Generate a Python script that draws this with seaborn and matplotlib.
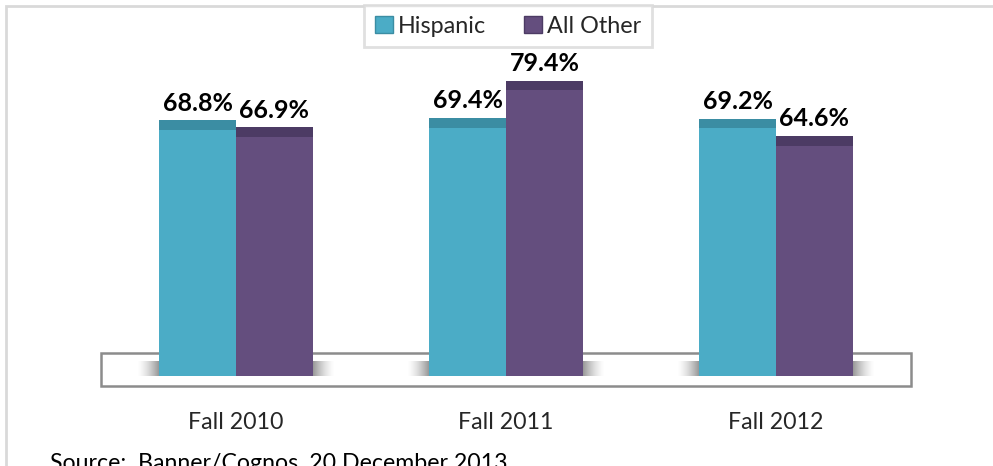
import numpy as np
import pandas as pd
import matplotlib
matplotlib.use("Agg")
import matplotlib.pyplot as plt
from matplotlib.patches import Rectangle, Patch
import seaborn as sns

# Enrollment rates by term and student group
terms = ["Fall 2010", "Fall 2011", "Fall 2012"]
groups = ["Hispanic", "All Other"]
hispanic = [68.8, 69.4, 69.2]
all_other = [66.9, 79.4, 64.6]
source_note = "Source:  Banner/Cognos, 20 December 2013"

df = pd.DataFrame({
    "term": terms * 2,
    "group": [groups[0]] * 3 + [groups[1]] * 3,
    "rate": hispanic + all_other,
})

aqua, aqua_dark = "#4bacc6", "#3b8da3"
purple, purple_dark = "#644e7e", "#4c3b64"

sns.set_style("white")
plt.rcParams["font.family"] = ["Lato", "DejaVu Sans"]

W, H = 993, 466
fig = plt.figure(figsize=(W / 100, H / 100), dpi=100)
fig.patch.set_facecolor("white")

# frame along the top and left edges (right and bottom run off the canvas)
fig.add_artist(Rectangle((6 / W, -0.2), 1.2, 1.2 - 6 / H, facecolor="none",
                         edgecolor="#d9d9d9", lw=2, transform=fig.transFigure))

ax = fig.add_axes([101 / W, 1 - 376 / H, 810 / W, 316 / H])
sns.barplot(data=df, x="term", y="rate", hue="group", order=terms,
            hue_order=groups, palette=[aqua, purple], width=0.57,
            saturation=1, legend=False, ax=ax, zorder=2, linewidth=0,
            edgecolor="none")

ax.set_xlim(-0.5, 2.5)
ax.set_ylim(0, 85)

# darker bevel band on top of every bar
dark_for = {matplotlib.colors.to_hex(aqua): aqua_dark,
            matplotlib.colors.to_hex(purple): purple_dark}
for bar in list(ax.patches):
    x, w, h = bar.get_x(), bar.get_width(), bar.get_height()
    col = dark_for.get(matplotlib.colors.to_hex(bar.get_facecolor()), "#333333")
    ax.add_patch(Rectangle((x, h - 2.6), w, 2.6, facecolor=col,
                           edgecolor="none", zorder=3))

# floor plate under the bars
ax.add_patch(Rectangle((-0.5, -2.7), 3.0, 8.9, facecolor="white",
                       edgecolor="#8c8c8c", lw=1.8, clip_on=False, zorder=0.5))

# soft shadows beside each pair of bars
n = 64
ramp = np.linspace(0, 1, n) ** 1.5
grey = np.array([0.55, 0.55, 0.55])
left_img = np.zeros((1, n, 4))
left_img[..., :3] = grey
left_img[..., 3] = ramp * 0.9
right_img = left_img[:, ::-1, :]
for i in range(len(terms)):
    gx0 = i - 0.285
    gx1 = i + 0.285
    ax.imshow(left_img, extent=(gx0 - 0.08, gx0, 0, 3.9), aspect="auto",
              zorder=1, interpolation="bilinear")
    ax.imshow(right_img, extent=(gx1, gx1 + 0.08, 0, 3.9), aspect="auto",
              zorder=1, interpolation="bilinear")

ax.set_xlim(-0.5, 2.5)
ax.set_ylim(0, 85)

for cont in ax.containers:
    ax.bar_label(cont, fmt="%.1f%%", padding=4, fontsize=18,
                 fontweight="bold", color="black")

ax.set_xticks(range(len(terms)))
ax.set_xticklabels(terms)
ax.tick_params(axis="x", length=0, pad=26, labelsize=16.7)
ax.set_yticks([])
ax.set_xlabel("")
ax.set_ylabel("")
for s in ax.spines.values():
    s.set_visible(False)
ax.patch.set_alpha(0)

handles = [Patch(facecolor=aqua, edgecolor=aqua_dark),
           Patch(facecolor=purple, edgecolor=purple_dark)]
leg = fig.legend(handles, groups, loc="upper center",
                 bbox_to_anchor=(508 / W, 1 - 5 / H), ncol=2, frameon=True,
                 fancybox=False, edgecolor="#d9d9d9", fontsize=16.8,
                 handlelength=0.8, handleheight=0.8, handletextpad=0.2,
                 columnspacing=1.6, borderpad=0.45, borderaxespad=0)
leg.get_frame().set_linewidth(2)

fig.text(50 / W, -4 / H, source_note, fontsize=16.7, va="baseline",
         ha="left", color="black")

fig.savefig("out.png", dpi=100)
